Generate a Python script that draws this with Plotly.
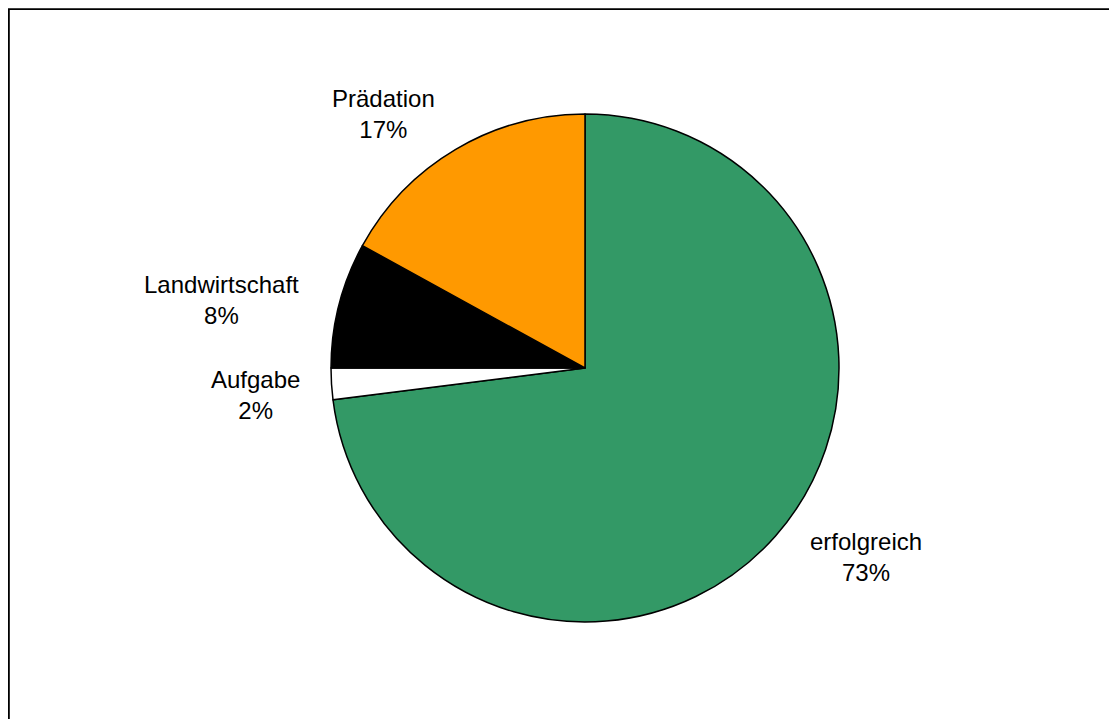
import plotly.graph_objects as go

# Data
labels = ["erfolgreich", "Aufgabe", "Landwirtschaft", "Prädation"]
values = [73, 2, 8, 17]
colors = ["#339966", "#FFFFFF", "#000000", "#FF9900"]

W, H = 1117, 719
OFF = 8  # page body margin
cx, cy, r = 585 - OFF, 368 - OFF, 254

# label block centres (screen pixels)
label_pos = {
    "erfolgreich": (866, 557),
    "Aufgabe": (255, 395),
    "Landwirtschaft": (221, 300),
    "Prädation": (383, 114),
}

fig = go.Figure()
fig.add_trace(go.Pie(
    labels=labels,
    values=values,
    sort=False,
    direction="clockwise",
    rotation=0,
    marker=dict(colors=colors, line=dict(color="#000000", width=1.5)),
    textinfo="none",
    hoverinfo="label+percent",
    showlegend=False,
    domain=dict(x=[(cx - r) / W, (cx + r) / W], y=[1 - (cy + r) / H, 1 - (cy - r) / H]),
))

total = sum(values)
annotations = []
for lab, val in zip(labels, values):
    px, py = label_pos[lab]
    pct = round(100 * val / total)
    annotations.append(dict(
        x=(px - OFF) / W, y=1 - (py - OFF) / H, xref="paper", yref="paper",
        text=f"{lab}<br>{pct}%", showarrow=False,
        xanchor="center", yanchor="middle", align="center",
        font=dict(family="Liberation Sans, Arial, sans-serif", size=24, color="#000000"),
    ))

fig.update_layout(
    width=W, height=H,
    margin=dict(l=0, r=0, t=0, b=0),
    paper_bgcolor="#FFFFFF",
    plot_bgcolor="#FFFFFF",
    annotations=annotations,
    shapes=[dict(type="rect", xref="paper", yref="paper",
                 x0=0.9 / W, x1=1.05, y0=-0.05, y1=1 - 1.2 / H,
                 line=dict(color="#000000", width=1.8), fillcolor="rgba(0,0,0,0)")],
)

fig.write_html("out.html")
